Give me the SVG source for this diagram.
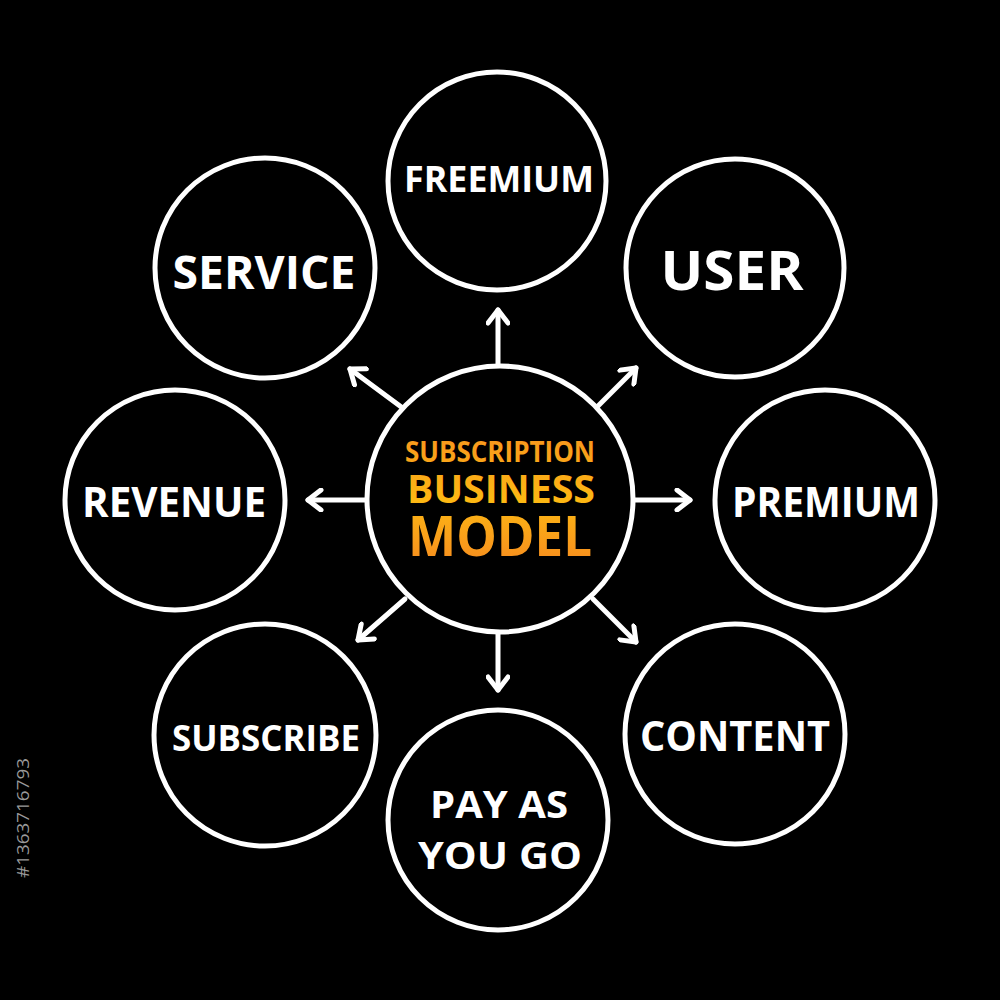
<svg xmlns="http://www.w3.org/2000/svg" width="1000" height="1000" viewBox="0 0 1000 1000">
<defs>
<style>
.bg{fill:#000}
.node{fill:#000;stroke:#fff;stroke-width:5}
.lbl{fill:#fff;font-family:"Open Sans","Liberation Sans",sans-serif;font-weight:700;text-anchor:middle}
.conn line{stroke:#fff;stroke-width:5;fill:none;stroke-linecap:round;stroke-linejoin:round}
.title{font-family:"Open Sans","Liberation Sans",sans-serif;font-weight:700;text-anchor:middle;fill:url(#og)}
.wm{fill:#9a9a9a;font-family:"Open Sans","Liberation Sans",sans-serif;font-size:17px}
</style>
<linearGradient id="og" gradientUnits="userSpaceOnUse" x1="0" y1="428" x2="0" y2="560">
<stop offset="0" stop-color="#f7931e"/>
<stop offset="0.55" stop-color="#fdb813"/>
<stop offset="1" stop-color="#f7901e"/>
</linearGradient>
<marker id="ah" viewBox="-16 -12 20 24" markerWidth="20" markerHeight="24" refX="0" refY="0" orient="auto" markerUnits="userSpaceOnUse">
<polyline points="-13,-10 0,0 -13,10" fill="none" stroke="#fff" stroke-width="5" stroke-linecap="round" stroke-linejoin="round"/>
</marker>
</defs>
<rect class="bg" width="1000" height="1000"/>
<g class="conn" id="connectors">
<line x1="498" y1="366" x2="498" y2="310" marker-end="url(#ah)"/>
<line x1="595" y1="409" x2="636" y2="368" marker-end="url(#ah)"/>
<line x1="634" y1="500" x2="690" y2="500" marker-end="url(#ah)"/>
<line x1="593" y1="599" x2="636" y2="642" marker-end="url(#ah)"/>
<line x1="498" y1="633" x2="498" y2="690" marker-end="url(#ah)"/>
<line x1="405" y1="599" x2="358" y2="640" marker-end="url(#ah)"/>
<line x1="366" y1="500" x2="308" y2="500" marker-end="url(#ah)"/>
<line x1="404" y1="409" x2="350" y2="369" marker-end="url(#ah)"/>
</g>
<g id="center">
<circle class="node" cx="500" cy="499" r="133"/>
<text class="title" x="500" y="462" font-size="29" textLength="190" lengthAdjust="spacingAndGlyphs">SUBSCRIPTION</text>
<text class="title" x="501" y="503" font-size="39" textLength="188" lengthAdjust="spacingAndGlyphs">BUSINESS</text>
<text class="title" x="500" y="556" font-size="56" textLength="184" lengthAdjust="spacingAndGlyphs">MODEL</text>
</g>
<g id="freemium">
<circle class="node" cx="497" cy="181" r="109"/>
<text class="lbl" x="499" y="192" font-size="36" textLength="190" lengthAdjust="spacingAndGlyphs">FREEMIUM</text>
</g>
<g id="user">
<circle class="node" cx="735" cy="268" r="109"/>
<text class="lbl" x="732" y="290" font-size="54" textLength="143" lengthAdjust="spacingAndGlyphs">USER</text>
</g>
<g id="premium">
<circle class="node" cx="825" cy="500" r="110"/>
<text class="lbl" x="826" y="517" font-size="42" textLength="188" lengthAdjust="spacingAndGlyphs">PREMIUM</text>
</g>
<g id="content">
<circle class="node" cx="735" cy="734" r="110"/>
<text class="lbl" x="735" y="751" font-size="42" textLength="190" lengthAdjust="spacingAndGlyphs">CONTENT</text>
</g>
<g id="payasyougo">
<circle class="node" cx="498" cy="820" r="110"/>
<text class="lbl" x="499" y="818" font-size="38" textLength="138" lengthAdjust="spacingAndGlyphs">PAY AS</text>
<text class="lbl" x="500" y="869" font-size="38" textLength="164" lengthAdjust="spacingAndGlyphs">YOU GO</text>
</g>
<g id="subscribe">
<circle class="node" cx="265" cy="735" r="111"/>
<text class="lbl" x="266" y="751" font-size="36" textLength="188" lengthAdjust="spacingAndGlyphs">SUBSCRIBE</text>
</g>
<g id="revenue">
<circle class="node" cx="175" cy="500" r="110"/>
<text class="lbl" x="174" y="517" font-size="42" textLength="184" lengthAdjust="spacingAndGlyphs">REVENUE</text>
</g>
<g id="service">
<circle class="node" cx="265" cy="268" r="110"/>
<text class="lbl" x="264" y="289" font-size="46" textLength="183" lengthAdjust="spacingAndGlyphs">SERVICE</text>
</g>
<text class="wm" transform="translate(29,878) rotate(-90)" textLength="120" lengthAdjust="spacingAndGlyphs">#1363716793</text>
</svg>
